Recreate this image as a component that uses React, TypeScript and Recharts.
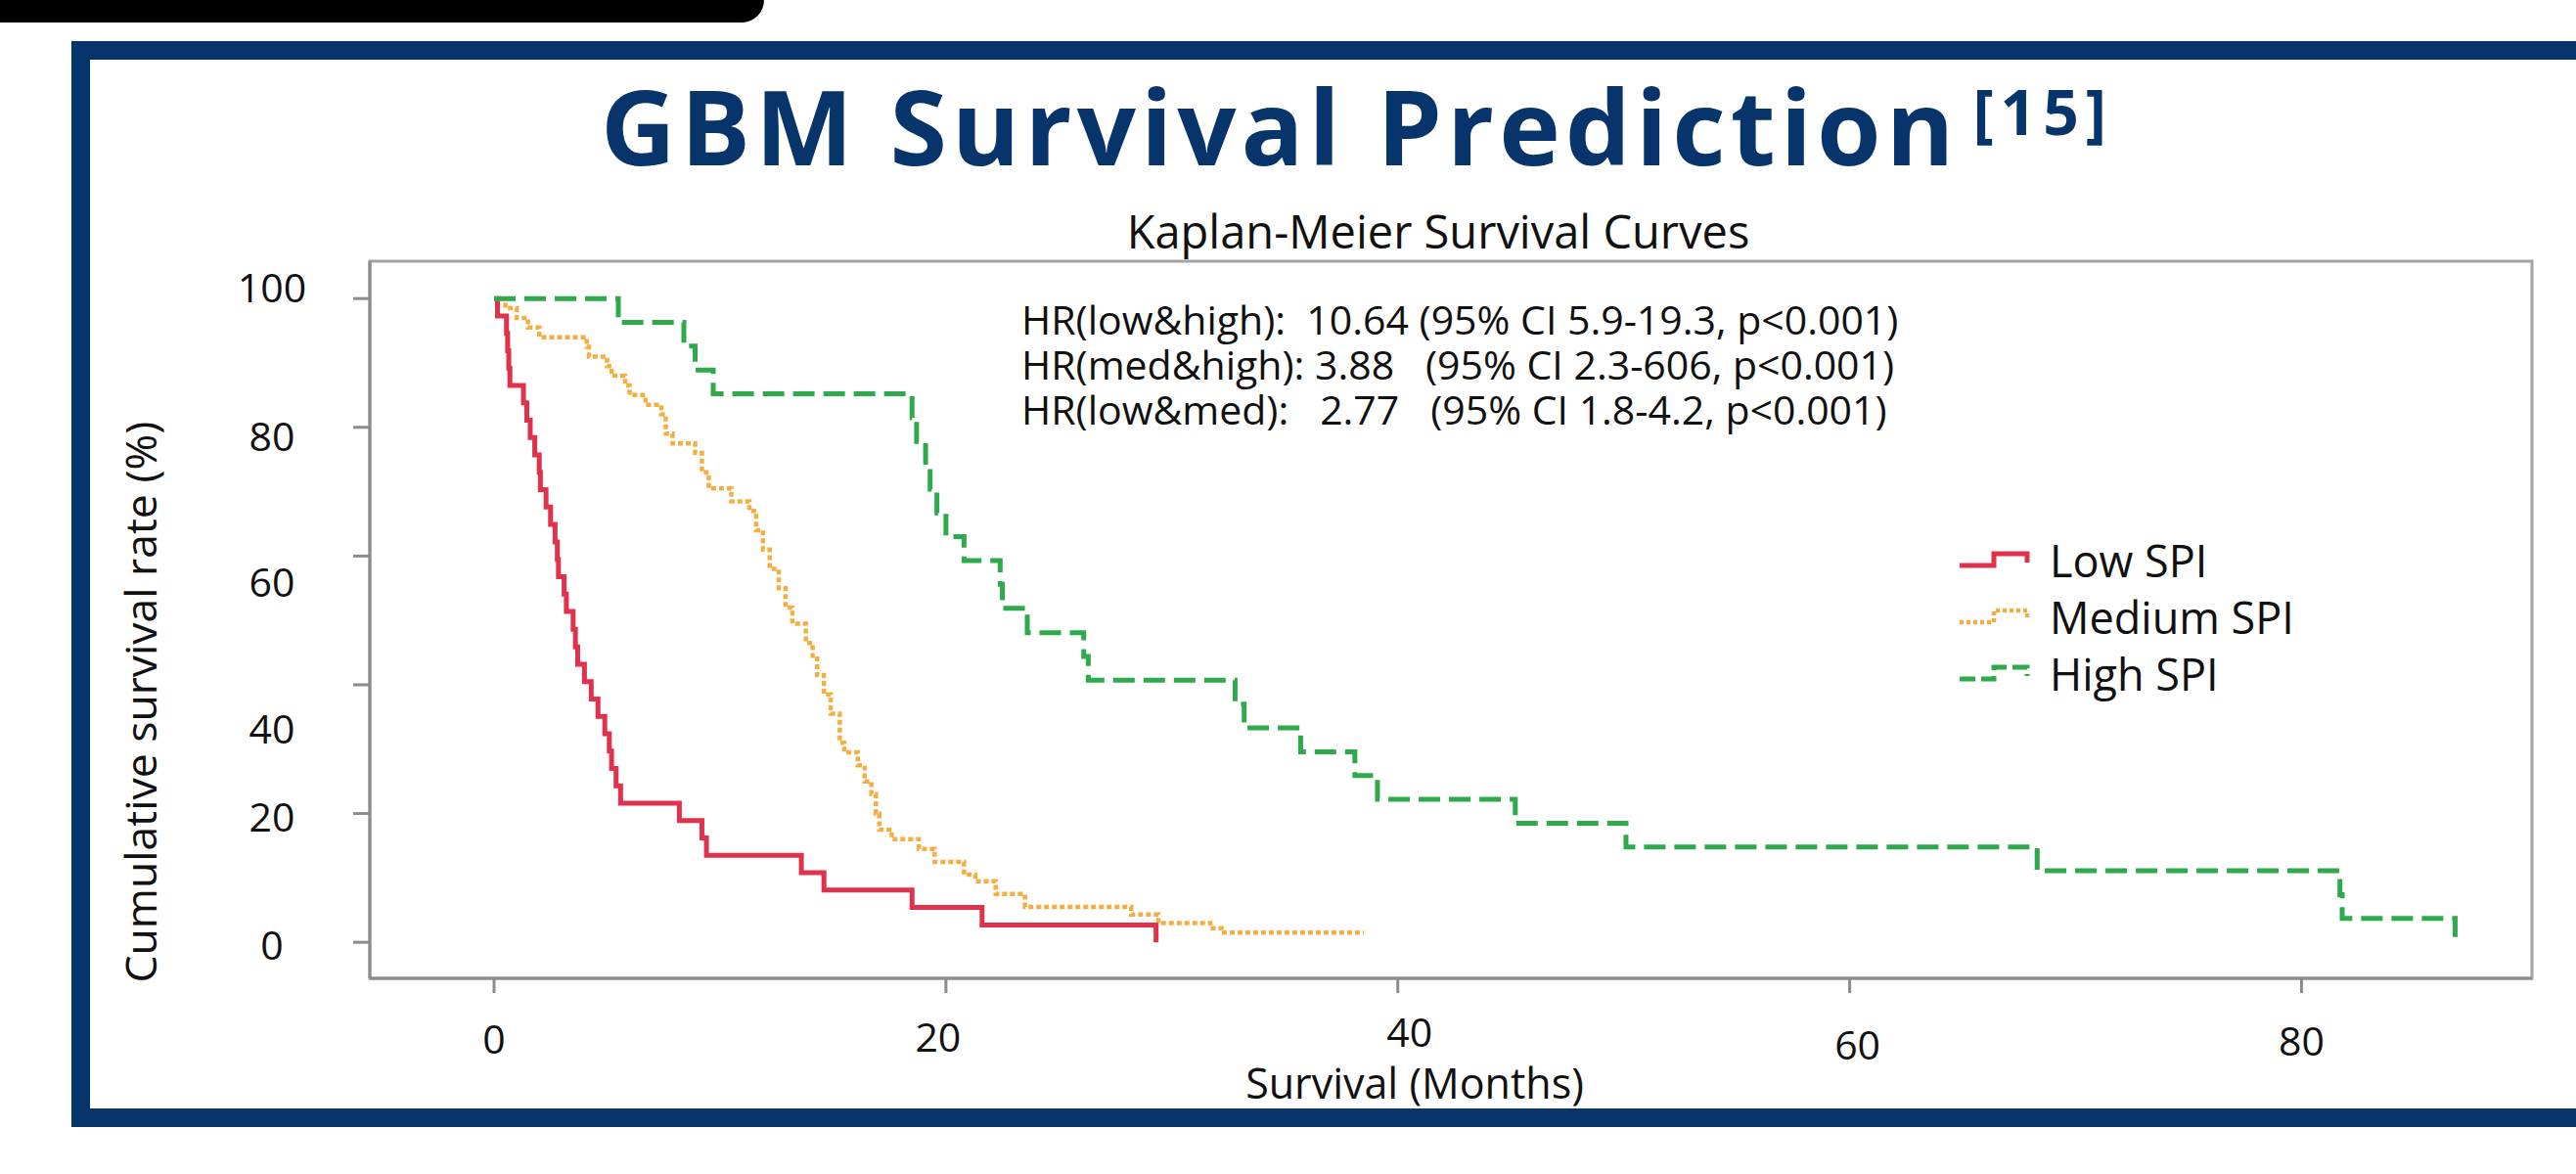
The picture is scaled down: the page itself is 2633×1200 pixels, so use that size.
import React from 'react';
import { LineChart, Line, XAxis, YAxis, ReferenceArea, Legend, Label } from 'recharts';

const RED = '#e0314d';
const ORANGE = '#f4ae42';
const GREEN = '#2ea94b';
const NAVY = '#07356b';
const AXIS = '#8c8c8c';
const FONT = "'Open Sans', 'Noto Sans', sans-serif";

// Low SPI
const lowMonths = [0, 0.15, 0.55, 0.6, 0.65, 0.7, 1.3, 1.45, 1.6, 1.8, 2.0, 2.05, 2.3, 2.5, 2.7, 2.8, 2.85, 3.1, 3.2, 3.5, 3.6, 3.7, 4.0, 4.3, 4.6, 4.9, 5.1, 5.2, 5.4, 5.6, 8.2, 9.2, 9.4, 13.6, 14.6, 18.5, 21.6, 29.3];
const lowSurvival = [100, 97.3, 94.6, 91.9, 89.2, 86.5, 83.8, 81.1, 78.4, 75.7, 73.0, 70.3, 67.6, 64.9, 62.2, 59.5, 56.8, 54.1, 51.4, 48.6, 45.9, 43.2, 40.5, 37.8, 35.1, 32.4, 29.7, 27.0, 24.3, 21.6, 18.9, 16.2, 13.5, 10.8, 8.1, 5.4, 2.7, 0];

// Medium SPI
const medMonths = [0, 0.5, 1.0, 1.5, 2.0, 4.1, 4.2, 5.0, 5.2, 5.8, 6.0, 6.7, 7.4, 7.6, 7.9, 8.9, 9.2, 9.5, 10.5, 11.3, 11.6, 11.9, 12.2, 12.6, 12.9, 13.2, 13.8, 14.1, 14.3, 14.6, 14.9, 15.3, 15.5, 16.1, 16.4, 16.7, 16.9, 17.05, 17.6, 18.8, 19.5, 20.8, 21.3, 22.2, 23.5, 28.2, 29.4, 31.7, 32.2, 38.5];
const medSurvival = [100, 98.5, 97.0, 95.5, 94.0, 92.5, 91.0, 89.5, 88.0, 86.5, 85.0, 83.5, 82.0, 79.0, 77.5, 76.0, 73.0, 70.5, 68.5, 67.0, 64.0, 61.0, 58.0, 55.0, 52.0, 49.5, 46.5, 44.5, 41.5, 38.5, 35.5, 31.0, 29.5, 27.5, 25.0, 23.0, 20.0, 17.5, 16.0, 14.5, 12.5, 10.5, 9.5, 7.5, 5.5, 4.3, 3.0, 2.2, 1.5, 1.5];

// High SPI
const highMonths = [0, 5.5, 8.4, 8.9, 9.7, 18.5, 18.7, 19.1, 19.3, 19.6, 20.0, 20.8, 22.4, 22.5, 23.6, 26.1, 26.3, 32.8, 33.2, 35.7, 38.1, 39.1, 45.2, 50.1, 68.3, 81.7, 81.8, 86.8];
const highSurvival = [100, 96.3, 92.6, 88.9, 85.2, 81.5, 77.8, 74.1, 70.4, 66.7, 63.0, 59.3, 55.6, 51.9, 48.1, 44.4, 40.7, 37.0, 33.3, 29.6, 25.9, 22.2, 18.5, 14.8, 11.1, 7.4, 3.7, 0];

const xTicks = [0, 20, 40, 60, 80];
const yTicks = [0, 20, 40, 60, 80, 100];

const hrLines = [
  'HR(low&high):  10.64 (95% CI 5.9-19.3, p<0.001)',
  'HR(med&high): 3.88   (95% CI 2.3-606, p<0.001)',
  'HR(low&med):   2.77   (95% CI 1.8-4.2, p<0.001)',
];

const LOW_DASH: string | undefined = undefined;
const MED_DASH = '5 3';
const HIGH_DASH = '22 9';

const legendItems = [
  { name: 'Low SPI', color: RED, dash: LOW_DASH, width: 5 },
  { name: 'Medium SPI', color: ORANGE, dash: '4 3', width: 4.5 },
  { name: 'High SPI', color: GREEN, dash: '16 6', width: 5 },
];

const pairs = (months: number[], surv: number[]) => months.map((t, i) => ({ t, s: surv[i] }));
const lowData = pairs(lowMonths, lowSurvival);
const medData = pairs(medMonths, medSurvival);
const highData = pairs(highMonths, highSurvival);

// the tick labels in the original figure sit a bit off their ticks
const yNudge: Record<number, number> = { 100: -12, 80: 8, 60: 26, 40: 44, 20: 2, 0: 2 };
const xNudge: Record<number, [number, number]> = { 0: [0, 0], 20: [-8, -2], 40: [12, -7], 60: [8, 6], 80: [0, 2] };

function YTick({ x, y, payload }: any) {
  return (
    <text x={x} y={y + (yNudge[payload.value] ?? 0)} textAnchor="middle" dominantBaseline="central"
      fontFamily={FONT} fontSize={41} fill="#111">
      {payload.value}
    </text>
  );
}

function XTick({ x, y, payload }: any) {
  const [dx, dy] = xNudge[payload.value] ?? [0, 0];
  return (
    <text x={x + dx} y={y + dy} dy="0.71em" textAnchor="middle" fontFamily={FONT} fontSize={41} fill="#111">
      {payload.value}
    </text>
  );
}

function XTitle({ viewBox }: any) {
  const cx = viewBox.x + viewBox.width / 2 - 37;
  return (
    <text x={cx} y={viewBox.y + 106} textAnchor="middle" dominantBaseline="central" fontFamily={FONT} fontSize={43} fill="#111">
      Survival (Months)
    </text>
  );
}

function YTitle({ viewBox }: any) {
  const cx = viewBox.x + viewBox.width - 236;
  const cy = viewBox.y + viewBox.height / 2 + 84;
  return (
    <text x={cx} y={cy} transform={`rotate(-90, ${cx}, ${cy})`} textAnchor="middle" dominantBaseline="central"
      fontFamily={FONT} fontSize={44.5} fill="#111">
      Cumulative survival rate (%)
    </text>
  );
}

function LegendContent() {
  return (
    <div style={{ fontFamily: FONT, fontSize: 45, color: '#111' }}>
      {legendItems.map((it) => (
        <div key={it.name} style={{ display: 'flex', alignItems: 'center', height: 58 }}>
          <svg width={80} height={26} style={{ marginRight: 15 }}>
            <path d="M3,19 H38 V7 H72 V16" fill="none" stroke={it.color} strokeWidth={it.width} strokeDasharray={it.dash} />
          </svg>
          <span>{it.name}</span>
        </div>
      ))}
    </div>
  );
}

export default function App() {
  return (
    <div style={{ position: 'absolute', left: 0, top: 0, width: 2633, height: 1200, overflow: 'hidden', background: '#fff', fontFamily: FONT }}>
      <div style={{ position: 'absolute', left: 0, top: 0, width: 781, height: 23, background: '#000', borderBottomRightRadius: 24 }} />
      <div style={{ position: 'absolute', left: 73, top: 42, width: 2633, height: 1110, border: `19px solid ${NAVY}`, boxSizing: 'border-box' }} />

      <div style={{ position: 'absolute', left: 0, top: 0 }}>
        <LineChart width={2633} height={1200} margin={{ top: 267, right: 45, bottom: 140, left: 258 }}>
          <ReferenceArea x1={-5.5} x2={90.2} y1={-5.6} y2={105.8} fill="none" stroke="#a3a3a3" strokeWidth={3} ifOverflow="visible" />
          <XAxis type="number" dataKey="t" domain={[-5.5, 90.2]} ticks={xTicks} allowDataOverflow height={60}
            axisLine={{ stroke: AXIS, strokeWidth: 3 }} tickLine={{ stroke: AXIS, strokeWidth: 3 }}
            tickSize={15} tickMargin={33} tick={(p: any) => <XTick {...p} />}>
            <Label content={XTitle} />
          </XAxis>
          <YAxis type="number" dataKey="s" domain={[-5.6, 105.8]} ticks={yTicks} allowDataOverflow width={120}
            axisLine={{ stroke: AXIS, strokeWidth: 3 }} tickLine={{ stroke: AXIS, strokeWidth: 3 }}
            tickSize={17} tickMargin={83} tick={(p: any) => <YTick {...p} />}>
            <Label content={YTitle} />
          </YAxis>
          <Legend layout="vertical" align="center" verticalAlign="middle" content={LegendContent}
            wrapperStyle={{ left: 2000, top: 543, width: 440 }} />
          <Line data={lowData} dataKey="s" name="Low SPI" type="stepAfter" stroke={RED} strokeWidth={5}
            strokeDasharray={LOW_DASH} dot={false} activeDot={false} isAnimationActive={false} />
          <Line data={medData} dataKey="s" name="Medium SPI" type="stepAfter" stroke={ORANGE} strokeWidth={4.5}
            strokeDasharray={MED_DASH} dot={false} activeDot={false} isAnimationActive={false} />
          <Line data={highData} dataKey="s" name="High SPI" type="stepAfter" stroke={GREEN} strokeWidth={5}
            strokeDasharray={HIGH_DASH} dot={false} activeDot={false} isAnimationActive={false} />
        </LineChart>
      </div>

      <div style={{ position: 'absolute', left: 0, top: 75, width: 2774, textAlign: 'center', color: NAVY, fontWeight: 700, fontSize: 106, lineHeight: '106px', letterSpacing: 5, whiteSpace: 'nowrap' }}>
        GBM Survival Prediction
        <span style={{ fontSize: 64, position: 'relative', top: -31, marginLeft: 14, letterSpacing: 7 }}>[15]</span>
      </div>
      <div style={{ position: 'absolute', left: 970, top: 213, width: 1000, textAlign: 'center', fontSize: 47, lineHeight: '47px', color: '#111' }}>
        Kaplan-Meier Survival Curves
      </div>
      <div style={{ position: 'absolute', left: 1044, top: 303, fontSize: 41, lineHeight: '46px', color: '#111', whiteSpace: 'pre' }}>
        {hrLines.map((l) => (
          <div key={l}>{l}</div>
        ))}
      </div>
    </div>
  );
}
